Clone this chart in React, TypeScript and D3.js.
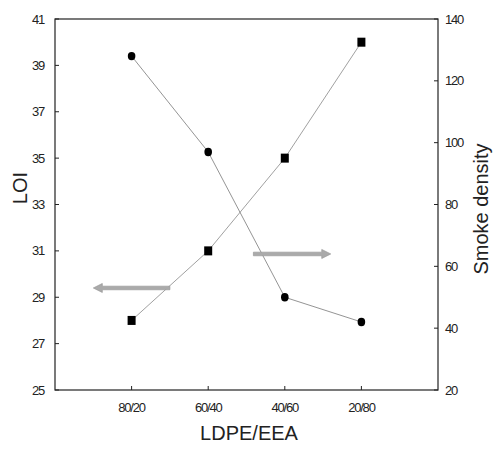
import React from "react";
import * as d3 from "d3";

const categories = ["80/20", "60/40", "40/60", "20/80"];
const loiValues = [28, 31, 35, 40];
const smokeValues = [128, 97, 50, 42];
const loiTicks = [25, 27, 29, 31, 33, 35, 37, 39, 41];
const smokeTicks = [20, 40, 60, 80, 100, 120, 140];

const W = 494, H = 449;
const M = { left: 55, right: 438, top: 19, bottom: 390 };

export default function App() {
  const x = d3.scaleLinear().domain([0, 5]).range([M.left, M.right]);
  const yL = d3.scaleLinear().domain([25, 41]).range([M.bottom, M.top]);
  const yR = d3.scaleLinear().domain([20, 140]).range([M.bottom, M.top]);
  const font = "'Liberation Sans', Arial, sans-serif";
  const tickFont = "'Liberation Sans Narrow', 'Liberation Sans', Arial, sans-serif";

  const loiLine = d3.line<number>().x((_, i) => x(i + 1)).y((d) => yL(d));
  const smokeLine = d3.line<number>().x((_, i) => x(i + 1)).y((d) => yR(d));

  const arrow = (x1: number, x2: number, y: number) => {
    const dir = x2 > x1 ? 1 : -1;
    const hl = 9, hw = 4.5, sw = 1.8;
    const xb = x2 - dir * hl;
    const p = [
      [x1, y - sw], [xb, y - sw], [xb, y - hw], [x2, y], [xb, y + hw], [xb, y + sw], [x1, y + sw],
    ];
    return "M" + p.map((q) => q.join(",")).join("L") + "Z";
  };

  const tickStyle = { fontSize: 13, fontFamily: tickFont, fill: "#222", letterSpacing: -1.2 } as const;

  return (
    <svg width={W} height={H} style={{ position: "absolute", left: 0, top: 0 }}>
      <rect width={W} height={H} fill="#fff" />
      <rect x={M.left} y={M.top} width={M.right - M.left} height={M.bottom - M.top} fill="none" stroke="#222" strokeWidth={1.2} />
      {loiTicks.map((t) => (
        <g key={"l" + t}>
          <line x1={M.left} x2={M.left + 4} y1={yL(t)} y2={yL(t)} stroke="#222" />
          <text x={M.left - 11} y={yL(t)} dy="0.35em" textAnchor="end" {...tickStyle}>{t}</text>
        </g>
      ))}
      {smokeTicks.map((t) => (
        <g key={"r" + t}>
          <line x1={M.right - 4} x2={M.right} y1={yR(t)} y2={yR(t)} stroke="#222" />
          <text x={M.right + 7} y={yR(t)} dy="0.35em" textAnchor="start" {...tickStyle}>{t}</text>
        </g>
      ))}
      {categories.map((c, i) => (
        <g key={c}>
          <line x1={x(i + 1)} x2={x(i + 1)} y1={M.bottom} y2={M.bottom - 4} stroke="#222" />
          <text x={x(i + 1)} y={M.bottom + 22} textAnchor="middle" {...tickStyle}>{c}</text>
        </g>
      ))}
      <text transform={`translate(27,188) rotate(-90)`} textAnchor="middle" fontSize={20} fontFamily={font} fill="#222">LOI</text>
      <text transform={`translate(488,209) rotate(-90)`} textAnchor="middle" fontSize={20} fontFamily={font} fill="#222">Smoke density</text>
      <text x={249} y={440} textAnchor="middle" fontSize={20} fontFamily={font} fill="#222">LDPE/EEA</text>

      <path d={loiLine(loiValues) || ""} fill="none" stroke="#777" strokeWidth={0.7} />
      <path d={smokeLine(smokeValues) || ""} fill="none" stroke="#666" strokeWidth={0.7} />
      {loiValues.map((v, i) => (
        <rect key={"s" + i} x={x(i + 1) - 4} y={yL(v) - 4.5} width={8} height={9} fill="#000" />
      ))}
      {smokeValues.map((v, i) => (
        <ellipse key={"c" + i} cx={x(i + 1)} cy={yR(v)} rx={3.8} ry={4.2} fill="#000" />
      ))}

      <path d={arrow(x(1.5), x(0.5), yL(29.4))} fill="#aaa" stroke="#999" strokeWidth={0.7} />
      <path d={arrow(x(2.59), x(3.6), yR(64))} fill="#aaa" stroke="#999" strokeWidth={0.7} />
    </svg>
  );
}
